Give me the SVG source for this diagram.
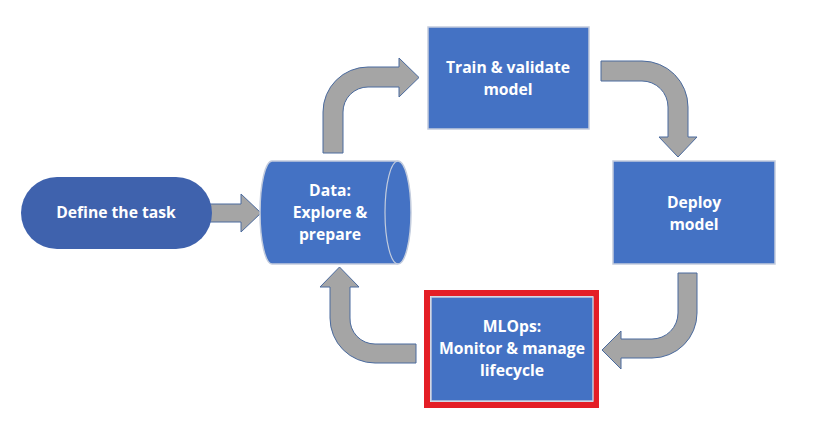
<svg xmlns="http://www.w3.org/2000/svg" width="813" height="439" viewBox="0 0 813 439">
<style>
.box{fill:#4472C4;stroke:#C3CCDD;stroke-width:1.5}
.arr{fill:#A5A5A5;stroke:#4A6A9E;stroke-width:1}
.t{font-family:"Open Sans","Liberation Sans",sans-serif;font-weight:700;font-size:15.7px;fill:#FFFFFF;text-anchor:middle}
</style>
<rect width="813" height="439" fill="#FFFFFF"/>
<g id="connectors">
<g id="arrow-define-data">
<rect x="200.5" y="204" width="2" height="17" class="arr"/>
<rect x="203.5" y="204" width="2" height="17" class="arr"/>
<path class="arr" d="M206.5,204 L241,204 L241,194 L261,213 L241,232 L241,222 L206.5,222 Z"/>
</g>
<path id="arrow-data-train" class="arr" d="M323,153 L323,112 A45,45 0 0 1 368,67 L399,67 L399,58 L419,77.5 L399,97 L399,87 L368,87 A25,25 0 0 0 343,112 L343,153 Z"/>
<path id="arrow-train-deploy" class="arr" d="M601,61 L642,61 A46,46 0 0 1 688,107 L688,137 L697,137 L678,157 L659,137 L668,137 L668,107 A26,26 0 0 0 642,81 L601,81 Z"/>
<path id="arrow-deploy-mlops" class="arr" d="M678,273 L697,273 L697,313 A45,45 0 0 1 652,358 L621,358 L621,369 L602,350 L621,331 L621,339 L652,339 A26,26 0 0 0 678,313 Z"/>
<path id="arrow-mlops-data" class="arr" d="M416,344 L416,363 L375,363 A45,45 0 0 1 330,318 L330,287 L320,287 L339.5,267 L359,287 L350,287 L350,318 A25,25 0 0 0 375,344 Z"/>
</g>
<g id="node-define">
<rect x="21" y="177" width="191" height="72" rx="36" ry="36" fill="#3F62AD"/>
<text class="t" x="116" y="218">Define the task</text>
</g>
<g id="node-data">
<path d="M272,161 L398,161 A13,51.5 0 0 1 398,264 L272,264 A12,51.5 0 0 1 272,161 Z" class="box"/>
<path d="M398,161 A13,51.5 0 0 0 398,264" fill="none" stroke="#C3CCDD" stroke-width="1.2"/>
<text class="t" x="330" y="196">Data:</text>
<text class="t" x="330" y="218">Explore &amp;</text>
<text class="t" x="330" y="240">prepare</text>
</g>
<g id="node-train">
<rect x="428" y="27" width="161" height="102" class="box"/>
<text class="t" x="508" y="73">Train &amp; validate</text>
<text class="t" x="508" y="95">model</text>
</g>
<g id="node-deploy">
<rect x="613" y="161" width="162" height="103" class="box"/>
<text class="t" x="694" y="208">Deploy</text>
<text class="t" x="694" y="230">model</text>
</g>
<g id="node-mlops">
<rect x="427" y="293" width="169" height="112" fill="#FFFFFF" stroke="#E41E26" stroke-width="6"/>
<rect x="431" y="297" width="162" height="104" class="box"/>
<text class="t" x="512" y="332">MLOps:</text>
<text class="t" x="512" y="354">Monitor &amp; manage</text>
<text class="t" x="512" y="376">lifecycle</text>
</g>
</svg>
